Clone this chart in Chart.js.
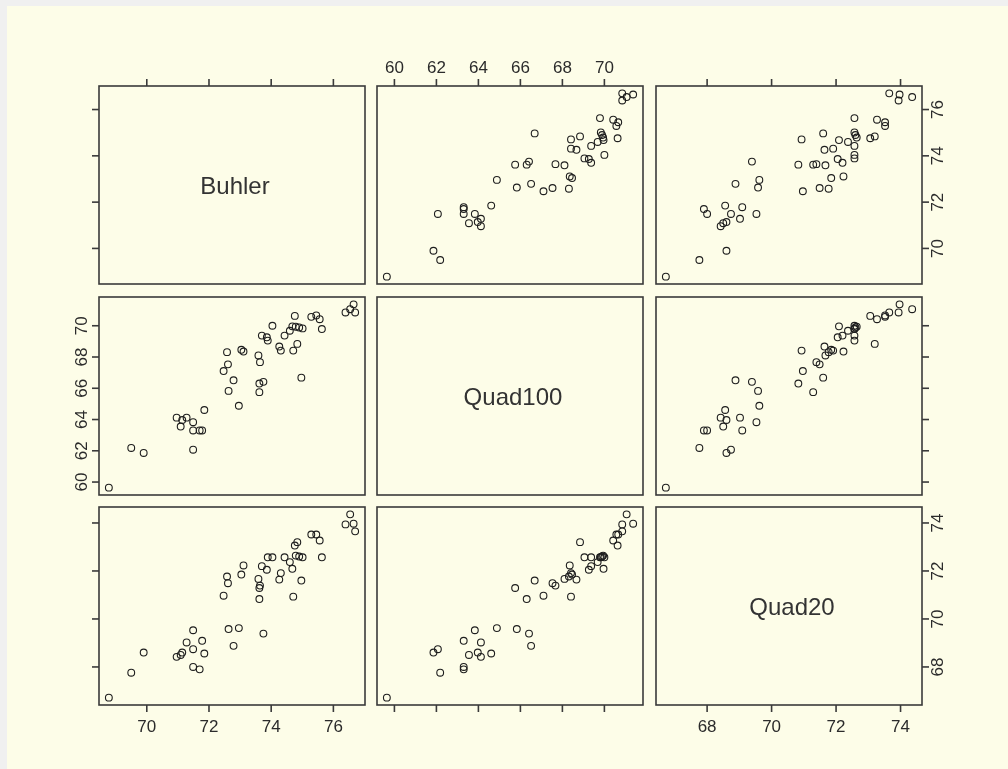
<!DOCTYPE html>
<html>
<head>
<meta charset="utf-8">
<title>Buhler / Quad100 / Quad20</title>
<script src="https://cdn.jsdelivr.net/npm/chart.js@4/dist/chart.umd.min.js"></script>
<style>
html, body { margin: 0; padding: 0; background: #f0f0f0; }
#frame { position: absolute; left: 7px; top: 6px; width: 1001px; height: 763px; background: #fdfde8; }
canvas { position: absolute; }
</style>
</head>
<body>
<div id="frame"></div>
<script>
// variables of the scatterplot matrix (one value per observation)
const varNames = ['Buhler', 'Quad100', 'Quad20'];
const buhler = [68.78, 69.50, 69.90, 70.96, 71.09, 71.14, 71.28, 71.49, 71.49, 71.49,
    71.70, 71.78, 71.85, 72.47, 72.58, 72.61, 72.63, 72.79, 72.96, 73.04,
    73.11, 73.59, 73.62, 73.62, 73.64, 73.70, 73.75, 73.86, 73.89, 74.04,
    74.26, 74.31, 74.43, 74.60, 74.71, 74.76, 74.79, 74.84, 74.90, 74.97,
    75.01, 74.68, 75.29, 75.45, 75.56, 75.63, 76.39, 76.54, 76.65, 76.70];
const quad100 = [59.64, 62.18, 61.86, 64.12, 63.55, 63.97, 64.12, 63.83, 63.30, 62.07,
    63.30, 63.30, 64.61, 67.10, 68.31, 67.53, 65.83, 66.51, 64.88, 68.46,
    68.35, 68.10, 66.30, 65.75, 67.67, 69.37, 66.41, 69.26, 69.05, 70.00,
    68.67, 68.41, 69.37, 69.68, 68.41, 70.63, 69.94, 68.84, 69.89, 66.68,
    69.83, 69.96, 70.57, 70.66, 70.42, 69.79, 70.85, 71.06, 71.37, 70.85];
const quad20 = [66.72, 67.76, 68.60, 68.42, 68.50, 68.60, 69.02, 69.53, 68.00, 68.74,
    67.90, 69.09, 68.56, 70.97, 71.77, 71.49, 69.58, 68.88, 69.62, 71.85,
    72.23, 71.67, 70.83, 71.29, 71.39, 72.20, 69.39, 72.05, 72.57, 72.57,
    71.64, 71.91, 72.57, 72.37, 70.93, 73.06, 72.64, 73.20, 72.60, 71.60,
    72.57, 72.09, 73.52, 73.52, 73.27, 72.57, 73.94, 74.36, 73.97, 73.65];

const buhlerTicks = [70, 72, 74, 76];
const quad100Ticks = [60, 62, 64, 66, 68, 70];
const quad20Ticks = [68, 70, 72, 74];

const vars = [buhler, quad100, quad20];
const tickSets = [buhlerTicks, quad100Ticks, quad20Ticks];

// axis limits like R's pairs(): data range widened by 4% each side
function padRange(v) {
    const lo = Math.min(...v), hi = Math.max(...v), d = (hi - lo) * 0.04;
    return [lo - d, hi + d];
}

const M = 40;
const colLeft = [99, 377, 656];
const rowTop = [86, 297, 507];
const W = 266, H = 198;
const FONT = '"Liberation Sans", Arial, sans-serif';

function seg(ctx, x1, y1, x2, y2) {
    ctx.beginPath();
    ctx.moveTo(x1, y1);
    ctx.lineTo(x2, y2);
    ctx.stroke();
}

const panelPlugin = {
    id: 'panel',
    afterDraw(chart) {
        const o = chart.options.plugins.panel;
        const ctx = chart.ctx, a = chart.chartArea;
        const xs = chart.scales.x, ys = chart.scales.y;
        const T = 7;
        ctx.save();
        ctx.strokeStyle = '#3a3a3a';
        ctx.lineWidth = 1.6;
        ctx.strokeRect(a.left, a.top, a.right - a.left, a.bottom - a.top);
        ctx.fillStyle = '#2b2b2b';
        ctx.font = '17px ' + FONT;
        ctx.textAlign = 'center';
        ctx.textBaseline = 'middle';

        if (o.top) o.xTicks.forEach(v => {
            const p = xs.getPixelForValue(v);
            seg(ctx, p, a.top, p, a.top - T);
            if (o.top === 'label') ctx.fillText(v, p, a.top - 18);
        });
        if (o.bottom) o.xTicks.forEach(v => {
            const p = xs.getPixelForValue(v);
            seg(ctx, p, a.bottom, p, a.bottom + T);
            if (o.bottom === 'label') ctx.fillText(v, p, a.bottom + 22);
        });
        if (o.left) o.yTicks.forEach(v => {
            const p = ys.getPixelForValue(v);
            seg(ctx, a.left, p, a.left - T, p);
            if (o.left === 'label') {
                ctx.save();
                ctx.translate(a.left - 17, p);
                ctx.rotate(-Math.PI / 2);
                ctx.fillText(v, 0, 0);
                ctx.restore();
            }
        });
        if (o.right) o.yTicks.forEach(v => {
            const p = ys.getPixelForValue(v);
            seg(ctx, a.right, p, a.right + T, p);
            if (o.right === 'label') {
                ctx.save();
                ctx.translate(a.right + 16, p);
                ctx.rotate(-Math.PI / 2);
                ctx.fillText(v, 0, 0);
                ctx.restore();
            }
        });
        if (o.title) {
            ctx.font = '24px ' + FONT;
            ctx.fillStyle = '#333';
            ctx.fillText(o.title, (a.left + a.right) / 2 + 3, (a.top + a.bottom) / 2 + 2);
        }
        ctx.restore();
    }
};

for (let i = 0; i < 3; i++) {
    for (let j = 0; j < 3; j++) {
        const canvas = document.createElement('canvas');
        canvas.width = W + 2 * M;
        canvas.height = H + 2 * M;
        canvas.style.left = (colLeft[j] - M) + 'px';
        canvas.style.top = (rowTop[i] - M) + 'px';
        document.body.appendChild(canvas);

        const xr = padRange(vars[j]), yr = padRange(vars[i]);
        const pts = i === j ? [] : vars[j].map((x, k) => ({ x: x, y: vars[i][k] }));

        new Chart(canvas.getContext('2d'), {
            type: 'scatter',
            data: {
                datasets: [{
                    data: pts,
                    pointStyle: 'circle',
                    pointRadius: 3.4,
                    pointBorderWidth: 1.1,
                    pointBorderColor: '#1e1e1e',
                    pointBackgroundColor: 'rgba(0,0,0,0)'
                }]
            },
            options: {
                responsive: false,
                animation: false,
                devicePixelRatio: 1,
                events: [],
                layout: { padding: M },
                scales: {
                    x: { type: 'linear', min: xr[0], max: xr[1], display: false },
                    y: { type: 'linear', min: yr[0], max: yr[1], display: false }
                },
                plugins: {
                    legend: { display: false },
                    tooltip: { enabled: false },
                    panel: {
                        xTicks: tickSets[j],
                        yTicks: tickSets[i],
                        title: i === j ? varNames[i] : null,
                        top: i === 0 ? (j === 1 ? 'label' : 'tick') : null,
                        bottom: i === 2 ? (j !== 1 ? 'label' : 'tick') : null,
                        left: j === 0 ? (i === 1 ? 'label' : 'tick') : null,
                        right: j === 2 ? (i !== 1 ? 'label' : 'tick') : null
                    }
                }
            },
            plugins: [panelPlugin]
        });
    }
}
</script>
</body>
</html>
